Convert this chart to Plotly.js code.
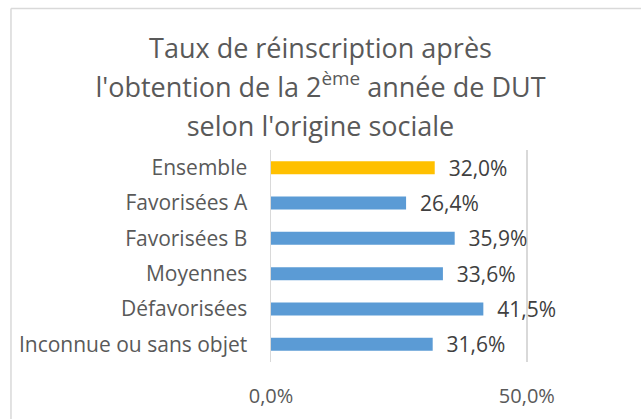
<!DOCTYPE html>
<html>
<head>
<meta charset="utf-8">
<script src="https://cdn.plot.ly/plotly-3.0.1.min.js"></script>
<style>html,body{margin:0;padding:0;background:#fff;}#chart{width:641px;height:419px;}</style>
</head>
<body>
<div id="chart"></div>
<script>
const categories = ["Ensemble", "Favorisées A", "Favorisées B", "Moyennes", "Défavorisées", "Inconnue ou sans objet"];
const values = [32.0, 26.4, 35.9, 33.6, 41.5, 31.6];
const barColors = ["#FFC000", "#5B9BD5", "#5B9BD5", "#5B9BD5", "#5B9BD5", "#5B9BD5"];
const xTicks = [0, 50];
const xTickLabels = ["0,0%", "50,0%"];
const titleLines = ["Taux de réinscription après", "l'obtention de la 2<sup>ème</sup> année de DUT", "selon l'origine sociale"];

const FONT = "'Open Sans', sans-serif";

const trace = {
  type: "bar",
  orientation: "h",
  y: categories,
  x: values,
  marker: {color: barColors},
  texttemplate: "\u00a0\u00a0%{x:.1f}%",
  textposition: "outside",
  constraintext: "none",
  cliponaxis: false,
  textfont: {family: FONT, size: 21, color: "#404040"},
  hoverinfo: "none"
};

const border = "#d9d9d9";
const layout = {
  width: 641,
  height: 419,
  separators: ", ",
  paper_bgcolor: "#fff",
  plot_bgcolor: "#fff",
  margin: {l: 271, r: 63, t: 150, b: 57},
  bargap: 0.63,
  showlegend: false,
  font: {family: FONT, color: "#595959"},
  title: {
    text: titleLines.map(t => '<span style="font-size:27px">' + t + '</span>').join("<br>"),
    font: {family: FONT, size: 30, color: "#595959"},
    x: 0.5, xref: "container", xanchor: "center",
    y: 0.862, yref: "container", yanchor: "top"
  },
  xaxis: {
    range: [0, 60],
    tickmode: "array",
    tickvals: xTicks,
    ticktext: xTickLabels,
    showgrid: true,
    gridcolor: border,
    gridwidth: 1.5,
    zeroline: false,
    showline: false,
    ticks: "",
    ticklabelstandoff: 20,
    tickfont: {family: FONT, size: 20, color: "#595959"},
    fixedrange: true
  },
  yaxis: {
    autorange: "reversed",
    showline: true,
    linecolor: border,
    linewidth: 1.5,
    ticks: "",
    ticklabelstandoff: 18,
    tickfont: {family: FONT, size: 21, color: "#595959"},
    fixedrange: true
  },
  shapes: [
    {type: "line", xref: "paper", yref: "paper", x0: -0.847, x1: 2, y0: 1.6675, y1: 1.6675, line: {color: border, width: 1.5}},
    {type: "line", xref: "paper", yref: "paper", x0: -0.847, x1: -0.847, y0: 1.6675, y1: -1, line: {color: border, width: 1.5}}
  ]
};

Plotly.newPlot("chart", [trace], layout, {displayModeBar: false, staticPlot: true});
</script>
</body>
</html>
